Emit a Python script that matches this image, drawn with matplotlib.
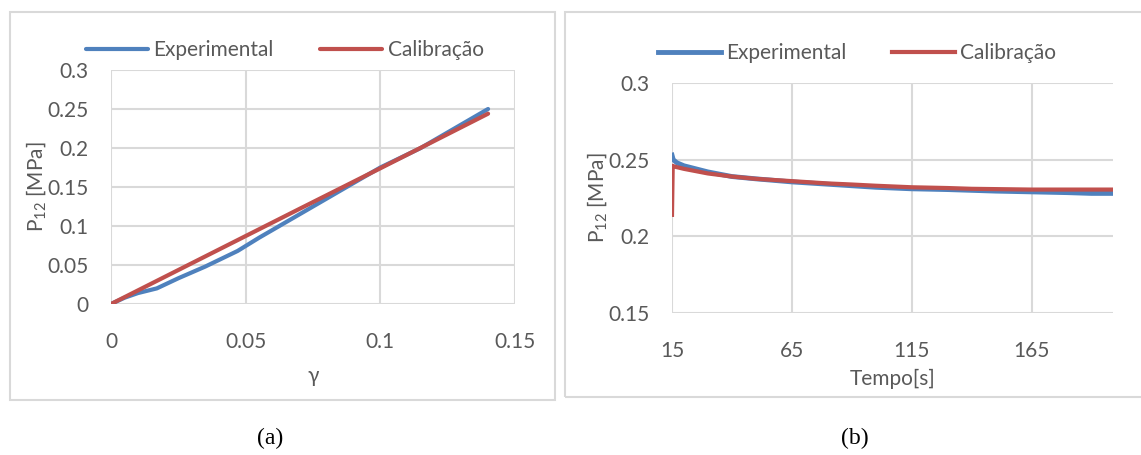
import matplotlib
matplotlib.use('Agg')
import matplotlib.pyplot as plt
from matplotlib.patches import Rectangle

### dados (a)
gama_exp = [0, 0.005, 0.010, 0.017, 0.025, 0.035, 0.047, 0.055, 0.065, 0.075, 0.085, 0.1, 0.115, 0.125, 0.14]
p12_exp = [0, 0.008, 0.014, 0.020, 0.033, 0.048, 0.068, 0.085, 0.105, 0.125, 0.145, 0.175, 0.200, 0.220, 0.250]
gama_cal = [0, 0.035, 0.07, 0.1, 0.14]
p12_cal = [0, 0.061, 0.122, 0.174, 0.244]

### dados (b)
tempo_exp = [15, 15.5, 17, 20, 25, 30, 40, 50, 65, 80, 90, 100, 115, 130, 140, 150, 165, 180, 190, 199]
p12_exp_b = [0.253, 0.250, 0.248, 0.246, 0.244, 0.242, 0.239, 0.2375, 0.2355, 0.234, 0.233, 0.232, 0.231, 0.2305, 0.230, 0.2295, 0.229, 0.2285, 0.228, 0.228]
tempo_cal = [15, 15.3, 16, 20, 25, 30, 40, 50, 65, 80, 90, 100, 115, 130, 140, 150, 165, 180, 199]
p12_cal_b = [0.214, 0.246, 0.2455, 0.244, 0.2425, 0.241, 0.239, 0.2375, 0.236, 0.2345, 0.2338, 0.233, 0.232, 0.2315, 0.231, 0.2308, 0.2305, 0.2305, 0.2305]

azul = '#4f81bd'
vermelho = '#c0504d'
cinza = '#595959'
grade = '#d9d9d9'
fs = 15

plt.rcParams['font.family'] = ['Lato', 'DejaVu Sans']
plt.rcParams['font.size'] = fs
plt.rcParams['text.color'] = cinza
plt.rcParams['xtick.color'] = cinza
plt.rcParams['ytick.color'] = cinza
plt.rcParams['axes.labelcolor'] = cinza
plt.rcParams['mathtext.default'] = 'regular'

W, H = 1141, 455
fig = plt.figure(figsize=(W/100, H/100), dpi=100)

def px(x0, y0, x1, y1):
    # caixa em pixels (origem em cima a esquerda) -> fracao da figura
    return [x0/W, 1 - y1/H, (x1 - x0)/W, (y1 - y0)/H]

# molduras
for (x0, y0, x1, y1) in [(10, 12, 555, 400), (565, 12, 1145, 397)]:
    b = px(x0, y0, x1, y1)
    fig.add_artist(Rectangle((b[0], b[1]), b[2], b[3], transform=fig.transFigure,
                             fill=False, edgecolor=grade, lw=1.5))

def estilo(ax):
    for s in ax.spines.values():
        s.set_visible(False)
    ax.grid(True, color=grade, lw=1.5)
    ax.set_axisbelow(True)
    ax.tick_params(length=0, labelsize=fs)
    ax.tick_params(axis='y', pad=16)
    ax.tick_params(axis='x', pad=20)

### (a)
ax1 = fig.add_axes(px(111, 70, 515, 304))
ax1.plot(gama_exp, p12_exp, color=azul, lw=3, label='Experimental', solid_capstyle='round')
ax1.plot(gama_cal, p12_cal, color=vermelho, lw=3, label='Calibração', solid_capstyle='round')
ax1.set_xlim(0, 0.15)
ax1.set_ylim(0, 0.3)
ax1.set_xticks([0, 0.05, 0.1, 0.15])
ax1.set_xticklabels(['0', '0.05', '0.1', '0.15'])
ax1.set_yticks([0, 0.05, 0.1, 0.15, 0.2, 0.25, 0.3])
ax1.set_yticklabels(['0', '0.05', '0.1', '0.15', '0.2', '0.25', '0.3'])
estilo(ax1)
ax1.set_xlabel('γ', labelpad=10)
ax1.set_ylabel('P$_{12}$ [MPa]', labelpad=0)
ax1.legend(loc='center', bbox_to_anchor=(0.43, 1.085), ncol=2, frameon=False,
           handlelength=3.0, columnspacing=2.2, handletextpad=0.25)

### (b)
ax2 = fig.add_axes(px(672, 83, 1113, 313))
ax2.plot(tempo_exp, p12_exp_b, color=azul, lw=3.5, label='Experimental')
ax2.plot(tempo_cal, p12_cal_b, color=vermelho, lw=3, label='Calibração')
ax2.set_xlim(15, 199)
ax2.set_ylim(0.15, 0.3)
ax2.set_xticks([15, 65, 115, 165])
ax2.set_yticks([0.15, 0.2, 0.25, 0.3])
ax2.set_yticklabels(['0.15', '0.2', '0.25', '0.3'])
estilo(ax2)
ax2.set_xlabel('Tempo[s]', labelpad=6)
ax2.set_ylabel('P$_{12}$ [MPa]', labelpad=0)
ax2.legend(loc='center', bbox_to_anchor=(0.42, 1.13), ncol=2, frameon=False,
           handlelength=3.0, columnspacing=2.2, handletextpad=0.25)

# legendas (a) e (b)
fig.text(270/W, 1 - 438/H, '(a)', ha='center', va='center', color='black',
         family=['Liberation Serif', 'DejaVu Serif'], fontsize=17)
fig.text(855/W, 1 - 438/H, '(b)', ha='center', va='center', color='black',
         family=['Liberation Serif', 'DejaVu Serif'], fontsize=17)

fig.savefig('out.png', dpi=100)
